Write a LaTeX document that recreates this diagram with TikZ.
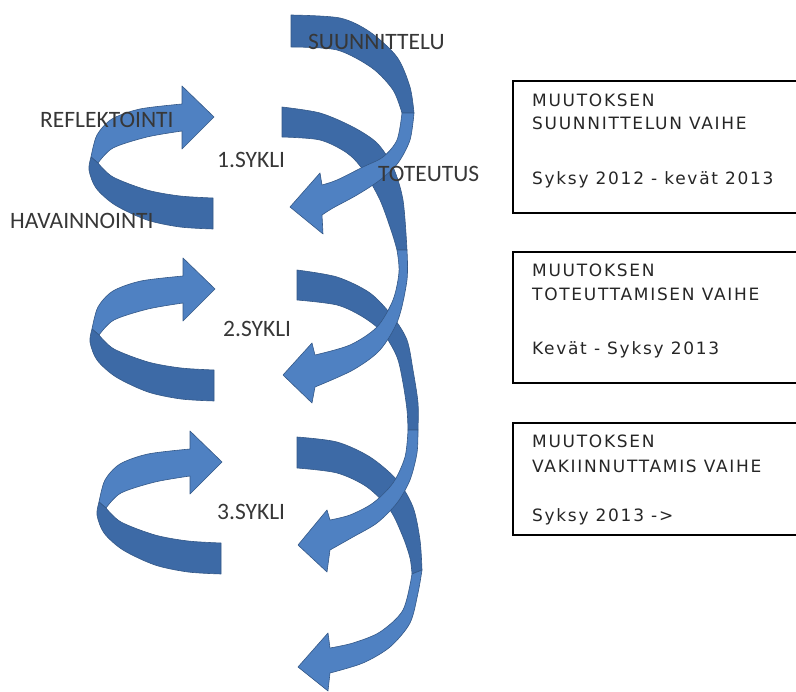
\documentclass[tikz,border=0pt]{standalone}
\usepackage{fontspec}
\setmainfont{Carlito}
\newfontfamily\boxfont[LetterSpace=10]{DejaVu Sans}
\definecolor{bdark}{RGB}{61,106,166}
\definecolor{blight}{RGB}{79,129,194}
\definecolor{bline}{RGB}{52,88,135}
\definecolor{lbl}{RGB}{55,55,55}
\begin{document}
\begin{tikzpicture}[x=1pt,y=-1pt,
  dk/.style={fill=bdark, draw=bline, line width=0.6pt, line join=round},
  lt/.style={fill=blight, draw=bline, line width=0.6pt, line join=round},
  lab/.style={font=\fontsize{23.5}{28}\selectfont, text=lbl, anchor=base west, inner sep=0pt},
  bx/.style={draw=black, line width=1.2pt},
  bt/.style={font=\boxfont\fontsize{17}{20}\selectfont, text=black!85, anchor=base west, inner sep=0pt}]
\useasboundingbox (0,0) rectangle (796,692);

% ---- left loops ----
\foreach \dx/\dy in {0/0, 1/172, 8/345}{
\begin{scope}[shift={(\dx,\dy)}]
\path[lt] (91,157) -- plot[smooth] coordinates {(91,157) (97,135) (112,119) (140,109) (182,104)}
  -- (182,86) -- (214,117) -- (182,149) -- (182,131)
  -- plot[smooth] coordinates {(182,131) (147,137) (113,148) (98,163)} -- cycle;
\path[dk] (213,198) -- (213,229)
  -- plot[smooth] coordinates {(213,229) (180,227) (147,220) (115,205) (96,188) (89,170) (91,157)}
  -- (98,163)
  -- plot[smooth] coordinates {(98,163) (113,177) (147,190) (180,196) (213,198)} -- cycle;
\end{scope}}

% ---- right helix: back parts ----
\path[dk] (291,15) -- plot[smooth] coordinates {(291,15) (340,18) (370,32) (397,57) (410,87) (414,113)}
  -- (402,113) -- plot[smooth] coordinates {(402,113) (393,90) (372,68) (337,50) (291,47)} -- cycle;
\path[dk] (282,107) -- plot[smooth] coordinates {(282,107) (320,113) (353,127) (377,143) (393,167) (403,200) (407,250)}
  -- (397,250) -- plot[smooth] coordinates {(397,250) (392,233) (380,200) (363,170) (347,153) (320,140) (282,137)} -- cycle;
\path[dk] (297,270) -- plot[smooth] coordinates {(297,270) (337,277) (370,293) (393,317) (407,340) (413,370) (418,403) (418,430)}
  -- (408,430) -- plot[smooth] coordinates {(408,430) (407,410) (403,383) (397,357) (383,333) (363,317) (337,305) (297,300)} -- cycle;
\path[dk] (297,437) -- plot[smooth] coordinates {(297,437) (337,442) (370,457) (397,480) (413,507) (420,540) (422,570)}
  -- (412,574) -- plot[smooth] coordinates {(412,574) (410,558) (403,537) (390,510) (367,487) (337,473) (297,468)} -- cycle;

% ---- right helix: front parts ----
\path[lt] (414,113) -- plot[smooth] coordinates {(414,113) (410,140) (398,163) (380,180) (357,195) (333,208) (322,215)}
  -- (323,234) -- (290,207) -- (320,173) -- (322,185)
  -- plot[smooth] coordinates {(322,185) (337,180) (363,167) (383,157) (397,140) (402,113)} -- cycle;
\path[lt] (407,250) -- plot[smooth] coordinates {(407,250) (407,280) (398,320) (380,350) (353,370) (315,387)}
  -- (312,403) -- (283,375) -- (312,343) -- (315,355)
  -- plot[smooth] coordinates {(315,355) (350,345) (377,327) (393,300) (399,272) (397,250)} -- cycle;
\path[lt] (418,430) -- plot[smooth] coordinates {(418,430) (417,453) (410,480) (397,503) (377,523) (353,537) (330,550)}
  -- (327,572) -- (298,545) -- (327,510) -- (330,520)
  -- plot[smooth] coordinates {(330,520) (350,515) (373,503) (393,483) (405,457) (408,430)} -- cycle;
\path[lt] (422,570) -- plot[smooth] coordinates {(422,570) (418,593) (410,623) (390,647) (363,663) (330,673)}
  -- (328,691) -- (298,667) -- (328,633) -- (330,648)
  -- plot[smooth] coordinates {(330,648) (353,643) (380,632) (403,610) (412,574)} -- cycle;

% ---- labels ----
\node[lab] (suun) at (308,50) {SUUNNITTELU};
\node[lab] (tot) at (378,182) {TOTEUTUS};
\node[lab] (s1) at (217,168) {1.SYKLI};
\node[lab] (refl) at (40,128) {REFLEKTOINTI};
\node[lab] (hav) at (10,229) {HAVAINNOINTI};
\node[lab] (s2) at (223,337) {2.SYKLI};
\node[lab] (s3) at (217,520) {3.SYKLI};

% ---- boxes ----
\draw[bx] (796,81) -- (513,81) -- (513,213) -- (796,213);
\draw[bx] (796,252) -- (513,252) -- (513,383) -- (796,383);
\draw[bx] (796,423) -- (513,423) -- (513,535) -- (796,535);

\node[bt] (b1a) at (532,106.7) {MUUTOKSEN};
\node[bt] (b1b) at (532,130) {SUUNNITTELUN VAIHE};
\node[bt] (b1c) at (532,184.3) {Syksy 2012 - kevät 2013};
\node[bt] (b2a) at (532,276.7) {MUUTOKSEN};
\node[bt] (b2b) at (532,300.7) {TOTEUTTAMISEN VAIHE};
\node[bt] (b2c) at (532,355) {Kevät - Syksy 2013};
\node[bt] (b3a) at (532,447.7) {MUUTOKSEN};
\node[bt] (b3b) at (532,472.3) {VAKIINNUTTAMIS VAIHE};
\node[bt] (b3c) at (532,521.7) {Syksy 2013 ->};
\end{tikzpicture}
\end{document}
